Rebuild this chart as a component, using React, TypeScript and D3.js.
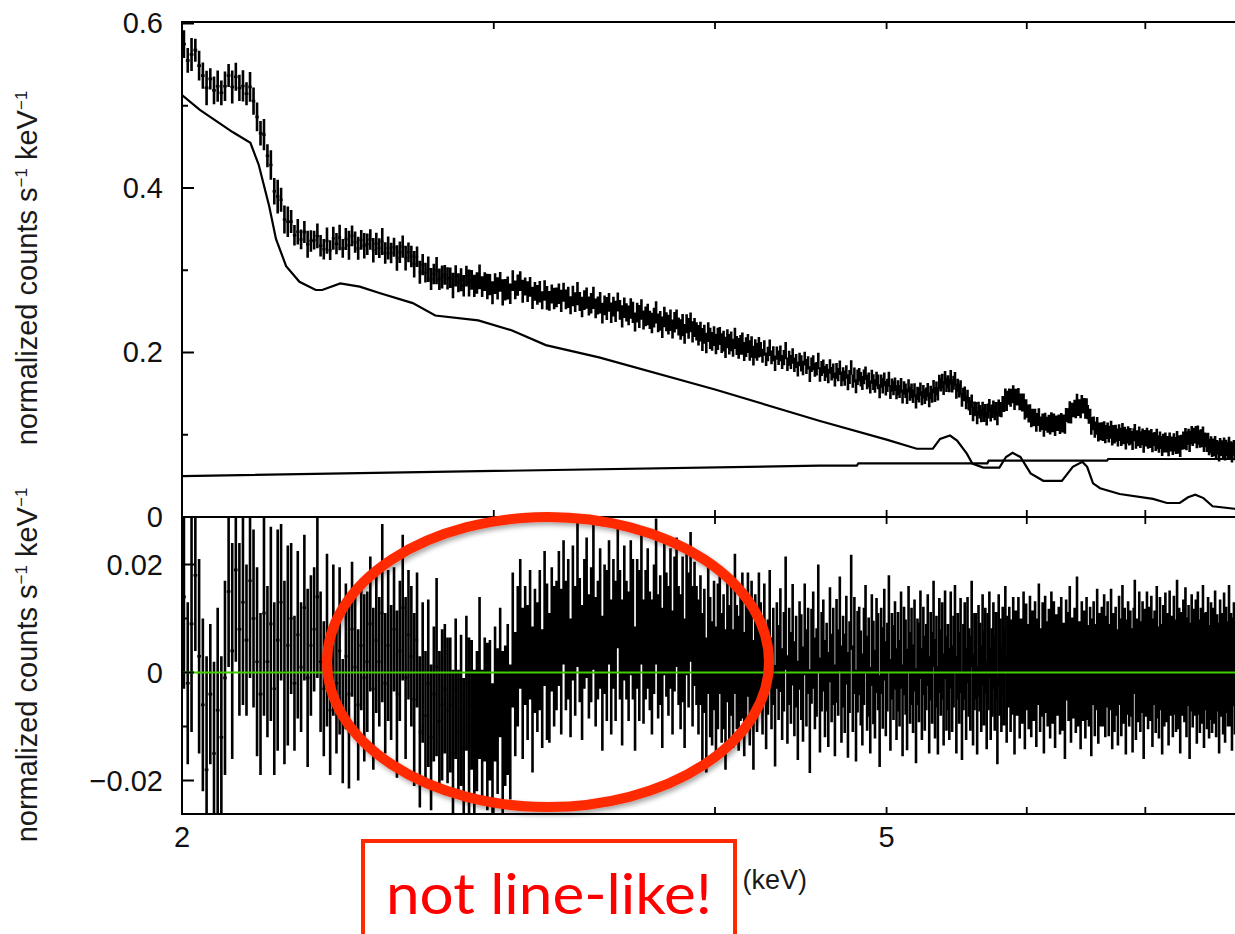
import React from 'react';
import * as d3 from 'd3';

// ---------- data ----------
const BIN_START = 2.0; // keV
const BIN_WIDTH = 0.01; // keV

// residuals (data - model) per bin, units of 1e-4 counts/s/keV
const RESID = [
  140, -20, 90, 180, 30,
  -60, -180, -40, -150, -70, -120, -10,
  150, 40, 190, 80, 130, 60, 170, 100, 20,
  -40, 110, 20, 90, -30, 60, 130, 0, 50,
  100, -20, 70, 10, 120, -10, 50, 80, 140, 20, -30, 60,
  -70, 60, -20, 40, -90, 30, -40, 80, 10, -60, 50, -10, 20,
  90, -30, 60, 20, 110, -20, 50, 0, 80, -40, 40, 120, -10, 70, 30, -50, 60,
  -110, 0, -80, -20, -120, -40, 10, -90, -60, -30, -70,
  -60, -150, -30, -110, -70, -140, -20, -100, -60, -130, -90, -10, -120, -50, -100, -70, -160, -40, -90, 0, -120, -80, -50, -110,
  60, -40, 30, 90, -20, 50, 0, 70, -50, 40, 10, 60, -30, 100, 20, -10, 80, 30, 50,
  100, 20, 130, 50, 80, -10, 110, 40, 150, 60,
  0, 90, 120, 30, 70, 140, 20, 60, 100, -20,
  80, 50, 130, 10, 90, 40, 160, 70, 0, 110,
  60, 30, 120, 80, -30, 90, 50, 140, 20, 70,
  100, 40, 10, 80, 150, 30, 60, -10, 120, 70,
  40, 100, 0, 90, 130, 50, 20, 80, -20, 110,
  60, 140, 30, 90, 50, 10,
  60, -30, 40, -60, 80, 10, -20, 50, -40, 30,
  70, -10, 20, -50, 60, 0, 40, -30, 90, 10,
  -20, 30, 50, -40, 20, 70, -10, 40, -60, 30,
  0, 60,
  40, -30, 70, -60, 10, 90, -20, 30, -80, 50, 0, 60, -40, 20, 110, -50, 30, -10, 70, -30,
  20, -70, 50, 10, -40, 80, -10, 40, -90, 30, 60, -20, 0, 100, -60, 20, 50, -30, 10, -50,
  70, -10, 30, -70, 40, 0, 90, -40, 20, -20, 60, -60, 10, 130, -30, 50, -80, 20, 40, -10,
  -50, 30, 80, -20, 10, -70, 60, 0, -40, 50, 20, -90, 40, -10, 70, -30, 10, 90, -60, 30,
  0, 50, -40, 20, -20, 60, -70, 40, 10, -50, 80, -10, 30, -30, 50, -80, 20, 0, 70, -40,
  40, -20, 10, 60, -60, 30, -10, 90, -30, 20, -70, 50, 0, 40, -50, 70, -20, 10, -40, 60,
  -30, 20, 80, -60, 30, -10, 50, -80, 10, 40, -40, 60, 0, -20, 90, -50, 20, 30, -70, 40,
  10, -30, 60, -10, 40, -60, 20, 70, -40, 0, 50, -20, 30, -90, 60, 10, -30, 40, -10, 80,
  -50, 20, 40, -30, 10, 60, -70, 30, 0, 50, -40, 20, -10, 70, -60, 40, 10, -20, 60, -40,
  30, -10, 50, -50, 20, 80, -30, 0, 40, -70, 60, 10, -20, 30, -40, 70, -10, 50, -60, 20,
  0, 40, -30, 60, -20, 10, -80, 50, 30, -10, 70, -50, 20, 0, 40, -30, 90, -20, 10, -60,
  50, -10, 30, -40, 60, 0, -20, 40, -70, 20, 50, -30, 10, 70, -50, 30, -10, 40, -20, 60,
  -40, 20, 50, -30, 10, 70, -60, 30, -20, 40, 0, -50, 60, 20, -30, 80, -10, 40, -70, 10,
  50, -20, 30, 0, -60, 40, 90, -40, 20, -10, 60, -30, 10, 50, -80, 30, 0, 70, -20, 40,
  -10, 60, -50, 20, 30, -30, 80, 0, -40, 50, 10, -70, 40, -20, 60, -10, 30, -50, 70, 0,
  20, -40, 60, 10, -30, 90, -20, 40, -60, 30, 0, 50, -10, 70, -40, 20, 40, -80, 10, 60,
  -20, 30, 0, 50, -50, 70, 10, -30, 40, -10, 80, -60, 20, 30, -20, 60, -40, 0, 50, -30,
  40, -10, 70, -40, 20, 10, -70, 50, 0, 30, -30, 60, -50, 40, 10, -20, 80, -10, 30, -60,
  20, 50, -30, 10, 60, -40, 30, 0,
];

// 1-sigma errors per bin, units of 1e-4
const ERRS = [
  170, 150, 200, 140, 180, 160, 210, 130, 170, 190, 150, 180, 140, 200, 170, 160, 190, 140, 180, 165,
  175, 150, 190, 140, 180, 160, 205, 145, 170, 185,
  140, 125, 155, 120, 135, 165, 130, 115, 150, 130,
  125, 160, 120, 140, 130, 155, 115, 135, 175, 125,
  130, 140, 120, 155, 130, 125, 150, 135, 120, 165,
  130, 140, 125, 115, 155, 130, 135, 150, 120, 130,
  160, 125, 140, 130, 120, 155, 135, 125, 165, 130,
  140, 120, 135, 125, 155, 130, 115, 140, 130, 125,
  165, 120, 135, 130, 150, 125, 115, 155, 130, 140,
  125, 135, 120, 160, 130, 140, 125,
  125, 115, 130, 120, 140, 110, 125, 120, 135, 115,
  120, 130, 110, 125, 145, 120, 115, 130, 120, 125,
  135, 115, 120, 130, 110, 125, 120, 140, 115, 125,
  120, 130, 115, 125, 135, 120, 110, 130, 125, 120,
  140, 115, 125, 120, 130, 115, 120, 135, 125, 110,
  120, 125, 130, 115, 120, 140, 125, 115, 120, 130,
  110, 125, 120, 135, 115, 120, 130, 125, 115, 120,
  130, 115, 125, 120, 110, 125, 135, 120, 115, 125,
  120, 130, 115, 110, 125, 120, 140, 115, 125, 120,
  130, 115, 120, 125, 135, 110, 120, 125, 130, 115,
  125, 120, 110, 130, 115, 125, 120, 135, 115, 120,
  115, 125, 130, 120, 115, 110, 125,
  90, 85, 95, 82, 88, 100, 85, 90, 94, 80, 88, 96, 85, 92, 105, 82, 90, 85, 94, 88,
  85, 92, 82, 98, 88, 85, 90, 80, 96, 88, 90, 85, 82, 100, 88, 92, 85, 90, 82, 88,
  88, 82, 90, 85, 96, 80, 88, 90, 85, 92, 82, 98, 85, 88, 80, 90, 85, 94, 82, 88,
  85, 90, 82, 88, 92, 80, 85, 96, 82, 88, 90, 85, 80, 94, 85, 88, 82, 90, 85, 80,
  88, 82, 85, 92, 80, 90, 85, 82, 88, 94, 80, 85, 90, 82, 85, 88, 80, 92, 82, 85,
  82, 88, 80, 85, 90, 82, 85, 80, 92, 85, 82, 88, 80, 90, 85, 82, 88, 80, 85, 90,
  80, 85, 82, 90, 80, 85, 88, 82, 80, 90, 85, 80, 82, 88, 80, 85, 90, 80, 82, 85,
  82, 80, 85, 88, 80, 82, 90, 80, 85, 82, 80, 88, 82, 80, 85, 90, 80, 82, 88, 80,
  80, 85, 82, 80, 88, 80, 82, 85, 80, 90, 82, 80, 85, 80, 82, 88, 80, 85, 82, 80,
  85, 80, 82, 88, 80, 85, 80, 82, 90, 80, 82, 85, 80, 88, 82, 80, 85, 82, 80, 88,
  80, 82, 85, 80, 88, 82, 80, 85, 82, 80, 90, 80, 82, 85, 80, 82, 88, 80, 85, 82,
  82, 80, 85, 82, 80, 88, 80, 82, 85, 80, 82, 88, 80, 85, 82, 80, 90, 82, 80, 85,
  80, 85, 82, 88, 80, 85, 82, 80, 90, 82, 80, 85, 82, 80, 88, 82, 85, 80, 82, 88,
  82, 80, 85, 82, 88, 80, 82, 85, 80, 82, 90, 80, 85, 82, 80, 88, 82, 80, 85, 82,
  80, 82, 88, 80, 85, 82, 80, 85, 82, 90, 80, 82, 85, 80, 88, 82, 80, 85, 82, 80,
  85, 80, 82, 88, 80, 82, 85, 80, 90, 82, 80, 85, 82, 88, 80, 82, 85, 80, 82, 85,
  82, 88, 80, 85, 82, 80, 88, 82, 80, 85, 82, 80, 90, 82, 85, 80, 82, 88, 80, 82,
  80, 85, 82, 80, 88, 82, 80, 85, 82, 80, 85, 88, 80, 82, 85, 80, 82, 90, 80, 85,
  82, 80, 85, 82, 88, 80, 82, 85,
];

// continuum model component (keV, counts/s/keV)
const CONT_E = [2.0, 2.047, 2.136, 2.186, 2.21, 2.24, 2.26, 2.29, 2.33, 2.38, 2.40, 2.457, 2.52, 2.588, 2.70, 2.78, 2.94, 3.07, 3.21, 3.44, 4.0, 4.58, 5.0, 5.20, 5.31, 5.36, 5.43, 5.48, 5.55, 5.59, 5.67, 5.79, 5.84, 5.89, 5.95, 6.03, 6.13, 6.28, 6.37, 6.45, 6.49, 6.54, 6.60, 6.77, 7.07, 7.20, 7.32, 7.40, 7.47, 7.55, 7.64, 7.86, 8.0];
const CONT_V = [0.513, 0.495, 0.468, 0.455, 0.428, 0.378, 0.338, 0.305, 0.286, 0.276, 0.276, 0.284, 0.280, 0.272, 0.260, 0.245, 0.239, 0.227, 0.209, 0.194, 0.155, 0.117, 0.094, 0.083, 0.083, 0.095, 0.099, 0.093, 0.077, 0.065, 0.060, 0.060, 0.073, 0.078, 0.073, 0.053, 0.044, 0.044, 0.061, 0.067, 0.061, 0.041, 0.035, 0.028, 0.022, 0.017, 0.017, 0.024, 0.027, 0.023, 0.013, 0.010, 0.009];

// power-law model component
const FLAT_E = [2.0, 4.58, 4.81, 4.82, 5.70, 5.71, 6.66, 6.67, 8.0];
const FLAT_V = [0.0498, 0.0624, 0.0624, 0.0653, 0.0653, 0.0685, 0.0685, 0.0705, 0.0705];

const TOP_MAJOR = [0, 0.2, 0.4, 0.6];
const TOP_MINOR = [0.1, 0.3, 0.5];
const TOP_LABELS = ['0', '0.2', '0.4', '0.6'];
const BOT_MAJOR = [-0.02, 0, 0.02];
const BOT_MINOR = [-0.01, 0.01];
const BOT_LABELS = ['\u22120.02', '0', '0.02'];
const X_TICKS = [3, 4, 5, 6, 7];
const X_LABEL_VALUES = [2, 5];

// ---------- layout ----------
const W = 1235, H = 934;
const X0 = 182, X1 = 1248;
const TOP_Y0 = 22, MID_Y = 517, BOT_Y1 = 814;
const FONT = 'Liberation Sans, Arial, Helvetica, sans-serif';

export default function App() {
  const x = d3.scaleLog().domain([2, 8]).range([X0, X1]);
  const yT = d3.scaleLinear().domain([0, 0.6018]).range([MID_Y, TOP_Y0]);
  const yB = d3.scaleLinear().domain([-0.0262, 0.0288]).range([BOT_Y1, MID_Y]);
  const cont = d3.scaleLinear().domain(CONT_E).range(CONT_V).clamp(true);
  const flat = d3.scaleLinear().domain(FLAT_E).range(FLAT_V).clamp(true);

  let topPath = '';
  let botPath = '';
  RESID.forEach((r, i) => {
    const lo = BIN_START + i * BIN_WIDTH;
    const hi = lo + BIN_WIDTH;
    const c = lo + BIN_WIDTH / 2;
    const res = r * 1e-4;
    const err = ERRS[i] * 1e-4;
    const v = cont(c) + flat(c) + res;
    const xl = x(lo), xh = x(hi), xc = x(c);
    topPath += `M${xl.toFixed(2)},${yT(v).toFixed(2)}H${xh.toFixed(2)}M${xc.toFixed(2)},${yT(v - err).toFixed(2)}V${yT(v + err).toFixed(2)}`;
    botPath += `M${xl.toFixed(2)},${yB(res).toFixed(2)}H${xh.toFixed(2)}M${xc.toFixed(2)},${yB(res - err).toFixed(2)}V${yB(res + err).toFixed(2)}`;
  });

  const contLine = d3.line<number>().x((_, i) => x(CONT_E[i])).y((d) => yT(d))(CONT_V) || '';
  const flatLine = d3.line<number>().x((_, i) => x(FLAT_E[i])).y((d) => yT(d))(FLAT_V) || '';

  let ticks = '';
  TOP_MAJOR.forEach((v) => {
    const y = yT(v);
    ticks += `M${X0},${y}h12M${X1},${y}h-12`;
  });
  TOP_MINOR.forEach((v) => {
    const y = yT(v);
    ticks += `M${X0},${y}h6M${X1},${y}h-6`;
  });
  BOT_MAJOR.forEach((v) => {
    const y = yB(v);
    ticks += `M${X0},${y}h12M${X1},${y}h-12`;
  });
  BOT_MINOR.forEach((v) => {
    const y = yB(v);
    ticks += `M${X0},${y}h6M${X1},${y}h-6`;
  });
  X_TICKS.forEach((t) => {
    const xx = x(t);
    ticks += `M${xx},${TOP_Y0}v7M${xx},${MID_Y}v-7M${xx},${MID_Y}v7M${xx},${BOT_Y1}v-7`;
  });

  const yLabel = (cy: number) => (
    <text transform={`translate(37,${cy}) rotate(-90)`} textAnchor="middle" fontSize={29} fill="#1a1a1a" fontFamily={FONT}>
      normalized counts s<tspan dy={-10} fontSize={17}>{'\u22121'}</tspan>
      <tspan dy={10}> keV</tspan>
      <tspan dy={-10} fontSize={17}>{'\u22121'}</tspan>
    </text>
  );

  return (
    <svg width={W} height={H} style={{ position: 'absolute', left: 0, top: 0, background: '#fff' }}>
      <defs>
        <clipPath id="clipTop">
          <rect x={X0} y={TOP_Y0} width={X1 - X0} height={MID_Y - TOP_Y0} />
        </clipPath>
        <clipPath id="clipBot">
          <rect x={X0} y={MID_Y} width={X1 - X0} height={BOT_Y1 - MID_Y} />
        </clipPath>
        <filter id="shadow" x="-10%" y="-10%" width="130%" height="130%">
          <feDropShadow dx={2} dy={3} stdDeviation={2.5} floodColor="#000" floodOpacity={0.35} />
        </filter>
      </defs>
      <rect x={0} y={0} width={W} height={H} fill="#fff" />

      {/* top panel */}
      <g clipPath="url(#clipTop)">
        <path d={topPath} stroke="#000" strokeWidth={2.6} fill="none" />
        <path d={contLine} stroke="#000" strokeWidth={2.2} fill="none" />
        <path d={flatLine} stroke="#000" strokeWidth={2.2} fill="none" />
      </g>

      {/* residual panel */}
      <g clipPath="url(#clipBot)">
        <path d={botPath} stroke="#000" strokeWidth={2.6} fill="none" />
        <line x1={X0} x2={X1} y1={yB(0)} y2={yB(0)} stroke="#3fcf00" strokeWidth={2} />
      </g>

      {/* frames and ticks */}
      <rect x={X0} y={TOP_Y0} width={X1 - X0} height={BOT_Y1 - TOP_Y0} fill="none" stroke="#000" strokeWidth={2} />
      <line x1={X0} x2={X1} y1={MID_Y} y2={MID_Y} stroke="#000" strokeWidth={2} />
      <path d={ticks} stroke="#000" strokeWidth={1.8} fill="none" />

      {/* tick labels */}
      <g fontFamily={FONT} fontSize={29} fill="#111">
        {TOP_MAJOR.map((v, i) => (
          <text key={'t' + i} x={163} y={yT(v) + 10} textAnchor="end">{TOP_LABELS[i]}</text>
        ))}
        {BOT_MAJOR.map((v, i) => (
          <text key={'b' + i} x={163} y={yB(v) + 10} textAnchor="end">{BOT_LABELS[i]}</text>
        ))}
        {X_LABEL_VALUES.map((v) => (
          <text key={'x' + v} x={x(v)} y={847} textAnchor="middle">{String(v)}</text>
        ))}
      </g>

      {yLabel(268)}
      {yLabel(665)}

      <text x={807} y={889} textAnchor="end" fontFamily={FONT} fontSize={27} fill="#1a1a1a">(keV)</text>

      {/* annotations */}
      <ellipse cx={548} cy={662} rx={221} ry={145} fill="none" stroke="#ff2a00" strokeWidth={10} filter="url(#shadow)" />
      <rect x={363} y={841} width={372} height={130} fill="#fff" stroke="#ff2a00" strokeWidth={4} />
      <text x={549} y={914} textAnchor="middle" fontFamily="Lato, 'Open Sans', sans-serif" fontSize={56} fill="#ff0000" textLength={326} lengthAdjust="spacingAndGlyphs">not line-like!</text>
    </svg>
  );
}
